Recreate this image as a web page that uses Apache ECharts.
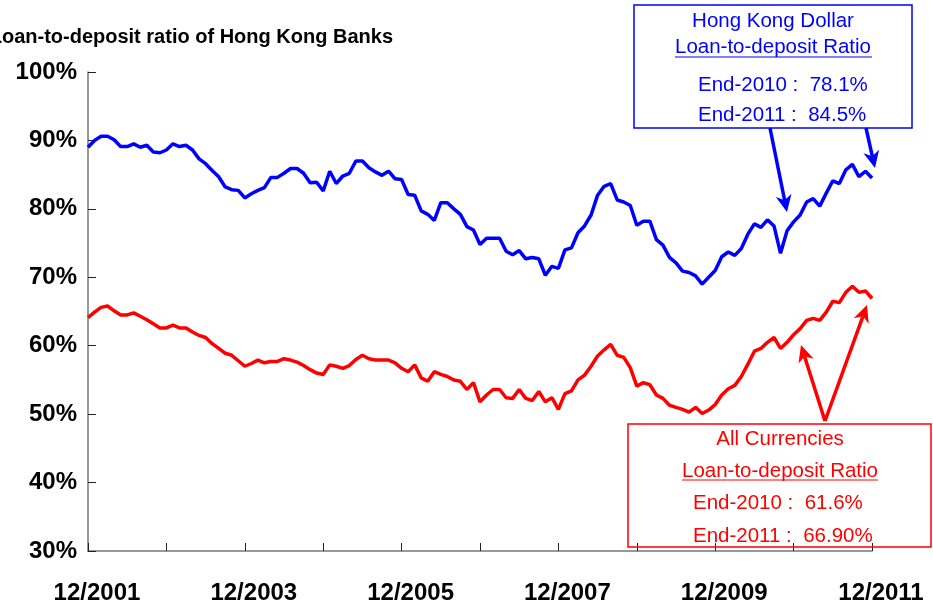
<!DOCTYPE html>
<html>
<head>
<meta charset="utf-8">
<script src="https://cdn.jsdelivr.net/npm/echarts@6.0.0/dist/echarts.min.js"></script>
<style>
    html, body { margin: 0; padding: 0; background: #fff; }
    #chart { width: 933px; height: 610px; }
</style>
</head>
<body>
<div id="chart"></div>
<script>
// monthly, 12/2001 .. 12/2011
const months = []
for (let y = 2001, m = 12; ; ) {
    months.push(String(m).padStart(2, '0') + '/' + y)
    if (y === 2011 && m === 12) break
    m++
    if (m > 12) { m = 1; y++ }
}

// Hong Kong Dollar loan-to-deposit ratio (%)
const hkdRatio = [
    89.0, 90.0, 90.6, 90.6, 90.1, 89.1, 89.1, 89.5, 89.0, 89.3, 88.3, 88.2,
    88.6, 89.5, 89.1, 89.3, 88.6, 87.3, 86.6, 85.6, 84.7, 83.2, 82.8, 82.7,
    81.6, 82.2, 82.7, 83.1, 84.6, 84.6, 85.2, 85.9, 85.9, 85.2, 83.8, 83.9,
    82.6, 85.5, 83.7, 84.8, 85.2, 87.0, 87.0, 86.0, 85.4, 84.9, 85.5, 84.4,
    84.3, 82.1, 82.0, 79.7, 79.2, 78.3, 80.9, 80.9, 80.0, 79.2, 77.4, 76.9,
    74.8, 75.7, 75.7, 75.7, 73.8, 73.3, 73.9, 72.7, 72.9, 72.7, 70.3, 71.6,
    71.3, 74.0, 74.3, 76.5, 77.5, 79.1, 82.0, 83.3, 83.7, 81.3, 81.0, 80.5,
    77.6, 78.2, 78.2, 75.5, 74.7, 72.9, 72.1, 70.9, 70.7, 70.2, 69.0, 70.0,
    71.0, 73.0, 73.7, 73.2, 74.2, 76.3, 77.8, 77.3, 78.4, 77.5, 73.5, 76.8,
    78.1, 79.1, 81.0, 81.5, 80.4, 82.3, 84.1, 83.7, 85.7, 86.5, 84.7, 85.5,
    84.5,
]

// All currencies loan-to-deposit ratio (%)
const allRatio = [
    64.1, 64.9, 65.6, 65.8, 65.1, 64.5, 64.5, 64.8, 64.3, 63.8, 63.2, 62.6,
    62.6, 63.0, 62.6, 62.6, 62.0, 61.5, 61.2, 60.3, 59.6, 58.9, 58.6, 57.8,
    57.0, 57.4, 57.9, 57.5, 57.7, 57.7, 58.1, 57.9, 57.6, 57.1, 56.5, 56.0,
    55.8, 57.2, 57.0, 56.7, 57.1, 58.0, 58.6, 58.1, 57.9, 57.9, 57.9, 57.5,
    56.7, 56.2, 57.2, 55.3, 54.8, 56.2, 55.8, 55.5, 55.0, 54.8, 53.6, 54.6,
    51.8, 52.8, 53.6, 53.6, 52.4, 52.3, 53.6, 52.3, 52.0, 53.3, 51.8, 52.4,
    50.7, 53.0, 53.4, 55.0, 55.7, 57.0, 58.5, 59.4, 60.2, 58.6, 58.3, 56.8,
    54.1, 54.6, 54.3, 52.8, 52.3, 51.3, 51.0, 50.7, 50.3, 51.0, 50.1, 50.6,
    51.4, 52.8, 53.7, 54.2, 55.5, 57.3, 59.2, 59.6, 60.5, 61.2, 59.6, 60.5,
    61.6, 62.5, 63.7, 64.0, 63.7, 64.9, 66.5, 66.3, 67.8, 68.7, 67.8, 68.0,
    66.9,
]

const hkdNotes = ['Hong Kong Dollar', 'Loan-to-deposit Ratio', 'End-2010 :  78.1%', 'End-2011 :  84.5%']
const allNotes = ['All Currencies', 'Loan-to-deposit Ratio', 'End-2010 :  61.6%', 'End-2011 :  66.90%']

const FONT = 'Arial, "Liberation Sans", sans-serif'
const BLUE = '#0000ff'
const RED = '#ff0000'

function txt(text, x, y, color, align) {
    return {
        type: 'text',
        z: 100,
        style: {
            text: text, x: x, y: y, fill: color,
            font: '20.5px ' + FONT,
            textAlign: align, align: align,
            textVerticalAlign: 'middle', verticalAlign: 'middle',
        },
    }
}

function arrow(x1, y1, x2, y2, color) {
    const dx = x2 - x1
    const dy = y2 - y1
    const len = Math.hypot(dx, dy)
    const ux = dx / len
    const uy = dy / len
    const px = -uy
    const py = ux
    const hl = 17, hw = 8, notch = 5
    const bx = x2 - ux * hl
    const by = y2 - uy * hl
    const nx = x2 - ux * (hl - notch)
    const ny = y2 - uy * (hl - notch)
    return [
        { type: 'line', z: 100, shape: { x1: x1, y1: y1, x2: nx, y2: ny }, style: { stroke: color, lineWidth: 3.5 } },
        {
            type: 'polygon', z: 100,
            shape: { points: [[x2, y2], [bx + px * hw, by + py * hw], [nx, ny], [bx - px * hw, by - py * hw]] },
            style: { fill: color },
        },
    ]
}

const chart = echarts.init(document.getElementById('chart'))
chart.setOption({
    animation: false,
    backgroundColor: '#fff',
    title: {
        text: 'Loan-to-deposit ratio of Hong Kong Banks',
        right: 540,
        top: 27,
        padding: 0,
        textStyle: { fontFamily: FONT, fontSize: 20, fontWeight: 'bold', color: '#000' },
    },
    grid: { left: 88, right: 61, top: 72, bottom: 59, containLabel: false },
    xAxis: {
        type: 'category',
        data: months,
        boundaryGap: false,
        axisLine: { lineStyle: { color: '#777', width: 1.5 } },
        axisTick: { inside: true, length: 8, interval: (i) => i % 12 === 0, lineStyle: { color: '#222' } },
        axisLabel: {
            interval: (i) => i % 24 === 0,
            margin: 30,
            padding: [0, 0, 0, 18],
            color: '#000',
            fontFamily: FONT,
            fontSize: 24,
            fontWeight: 'bold',
        },
        splitLine: { show: false },
    },
    yAxis: {
        type: 'value',
        min: 30,
        max: 100,
        interval: 10,
        axisLine: { show: true, lineStyle: { color: '#777', width: 1.5 } },
        axisTick: { show: true, inside: true, length: 8, lineStyle: { color: '#222' } },
        axisLabel: {
            formatter: '{value}%',
            margin: 11,
            padding: [6, 0, 0, 0],
            color: '#000',
            fontFamily: FONT,
            fontSize: 24,
            fontWeight: 'bold',
        },
        splitLine: { show: false },
    },
    series: [
        {
            name: 'Hong Kong Dollar',
            type: 'line',
            data: hkdRatio,
            symbol: 'none',
            clip: false,
            lineStyle: { color: BLUE, width: 3.5 },
        },
        {
            name: 'All Currencies',
            type: 'line',
            data: allRatio,
            symbol: 'none',
            clip: false,
            lineStyle: { color: RED, width: 3.5 },
        },
    ],
    graphic: [
        // HKD box
        { type: 'rect', z: 100, shape: { x: 634, y: 5, width: 278, height: 123 }, style: { fill: 'none', stroke: BLUE, lineWidth: 1.5 } },
        txt(hkdNotes[0], 773, 21, BLUE, 'center'),
        txt(hkdNotes[1], 773, 47, BLUE, 'center'),
        { type: 'line', z: 100, shape: { x1: 675, y1: 57, x2: 872, y2: 57 }, style: { stroke: BLUE, lineWidth: 1 } },
        txt(hkdNotes[2], 698, 85, BLUE, 'left'),
        txt(hkdNotes[3], 698, 115, BLUE, 'left'),
        ...arrow(770, 128, 787, 212, BLUE),
        ...arrow(866, 128, 875, 168, BLUE),
        // All currencies box
        { type: 'rect', z: 100, shape: { x: 628, y: 424, width: 303, height: 123 }, style: { fill: 'none', stroke: RED, lineWidth: 1.5 } },
        txt(allNotes[0], 780, 439, RED, 'center'),
        txt(allNotes[1], 780, 471, RED, 'center'),
        { type: 'line', z: 100, shape: { x1: 682, y1: 480, x2: 878, y2: 480 }, style: { stroke: RED, lineWidth: 1 } },
        txt(allNotes[2], 693, 503, RED, 'left'),
        txt(allNotes[3], 693, 536, RED, 'left'),
        ...arrow(825, 421, 801, 345, RED),
        ...arrow(825, 421, 867, 305, RED),
    ],
})
</script>
</body>
</html>
